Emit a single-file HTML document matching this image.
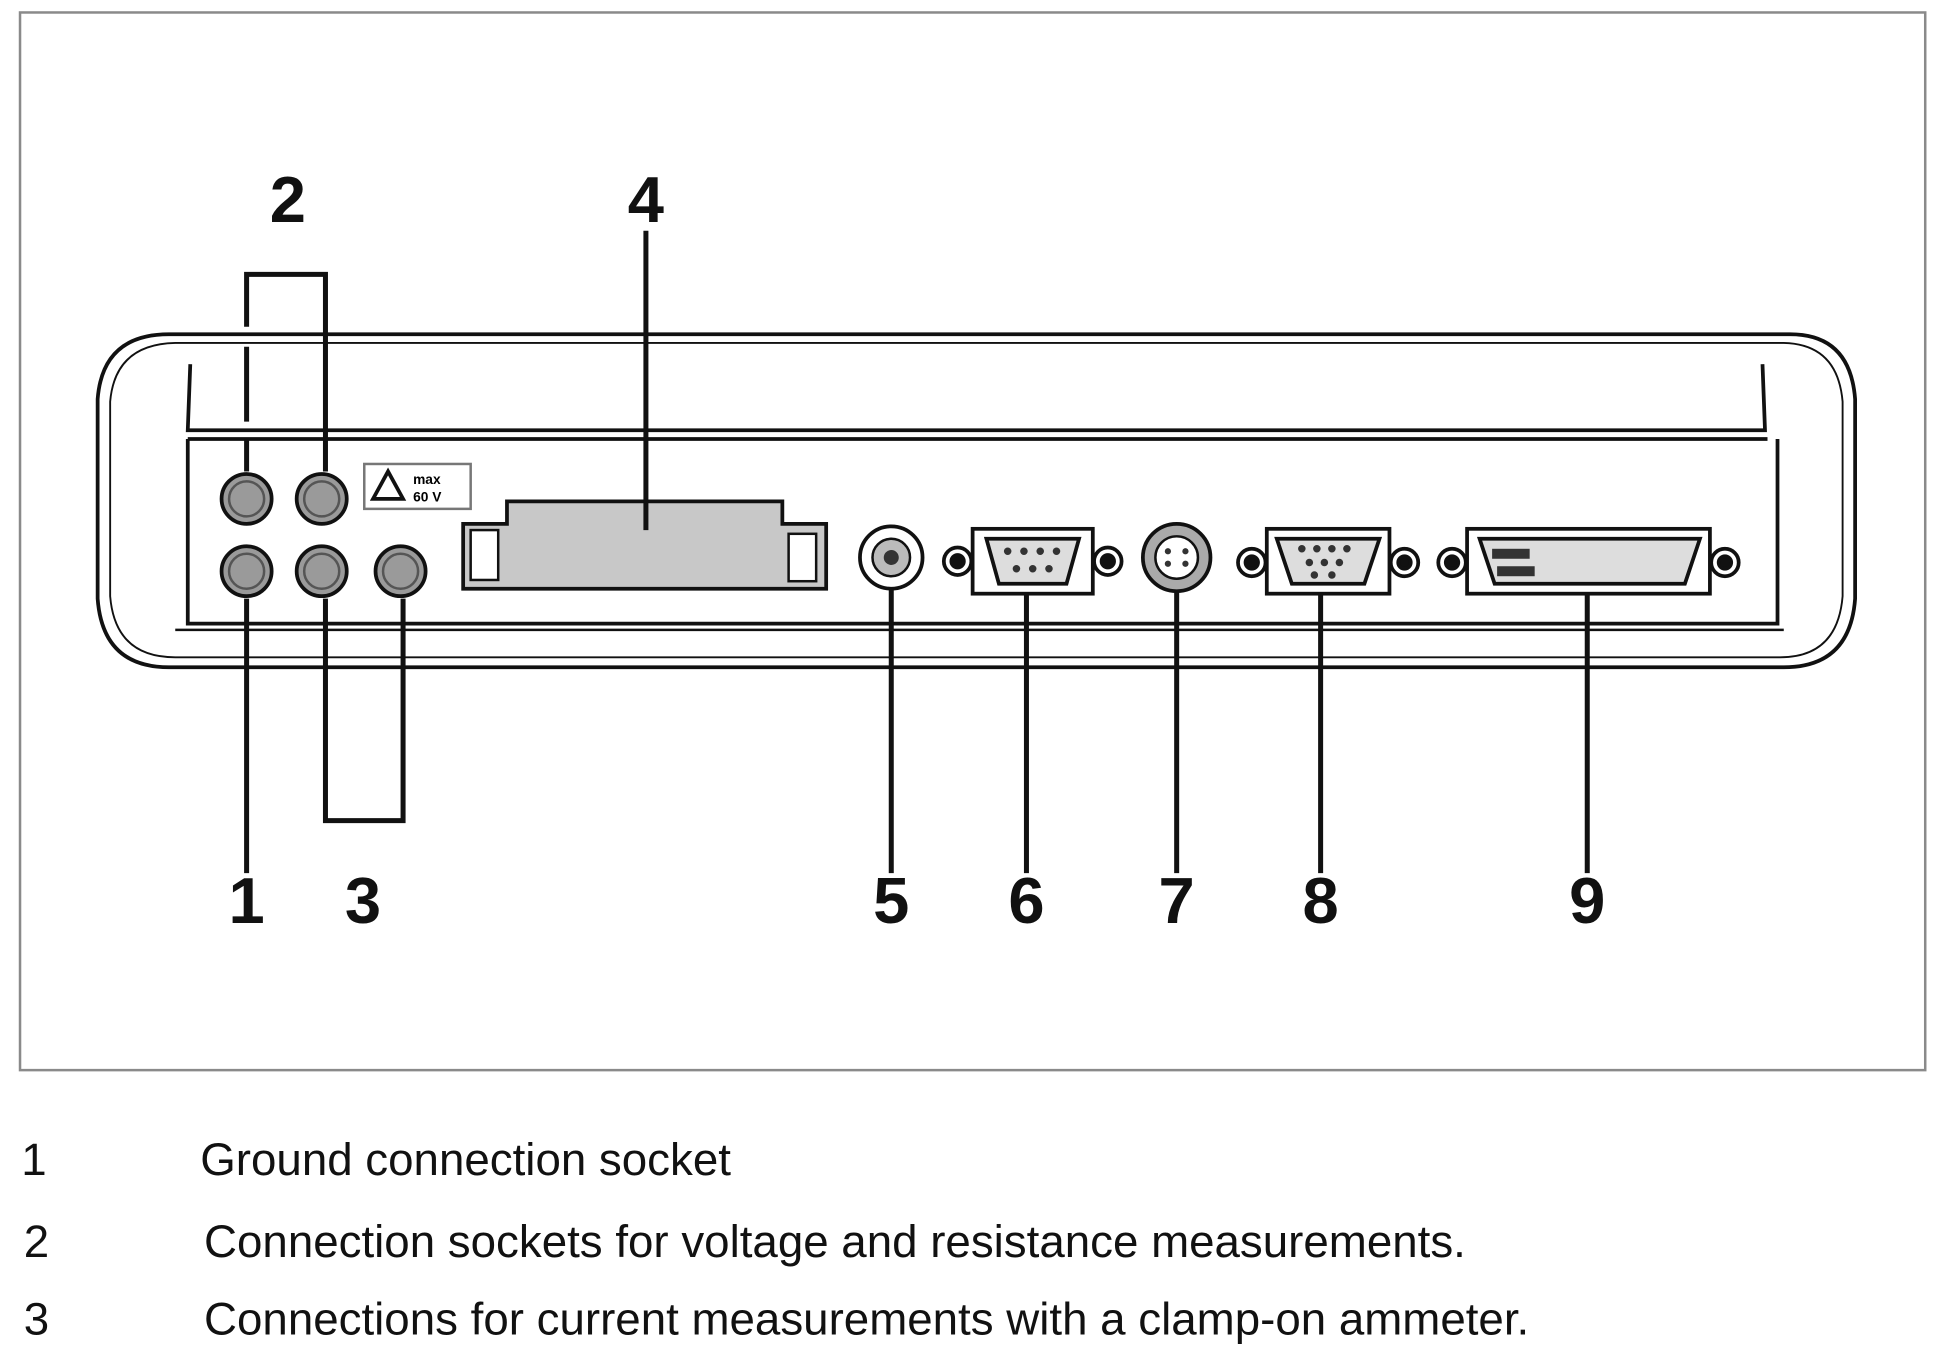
<!DOCTYPE html>
<html><head><meta charset="utf-8"><style>
html,body{margin:0;padding:0;background:#fff;}
svg{display:block;}
text{font-family:"Liberation Sans",Arial,sans-serif;}
</style></head><body>
<svg width="1944" height="1352" viewBox="0 0 1553 1084" preserveAspectRatio="none" xmlns="http://www.w3.org/2000/svg">
<rect x="16" y="10" width="1522" height="848" fill="#fff" stroke="#8a8a8a" stroke-width="2"/>
<g fill="none" stroke="#111" stroke-width="3">
<path d="M135,268 H1430 Q1478,268 1482,320 V480 Q1478,535 1425,535 H135 Q82,535 78,480 V320 Q82,268 135,268 Z"/>
<path d="M140,275 H1425 Q1468,276 1472,322 V478 Q1468,527 1422,527 H140 Q92,527 88,478 V322 Q92,276 140,275 Z" stroke-width="1.5"/>
<path d="M152,292 L150,345 H1410 L1408,292"/>
<path d="M150,352 H1412"/>
<path d="M150,352 V500 H1420 V352"/>
<path d="M140,505 H1425" stroke-width="2"/>
</g>
<g fill="#9a9a9a" stroke="#111" stroke-width="3">
<circle cx="197" cy="400" r="20"/><circle cx="257" cy="400" r="20"/>
<circle cx="197" cy="458" r="20"/><circle cx="257" cy="458" r="20"/><circle cx="320" cy="458" r="20"/>
</g>
<g fill="none" stroke="#555" stroke-width="2">
<circle cx="197" cy="400" r="14"/><circle cx="257" cy="400" r="14"/>
<circle cx="197" cy="458" r="14"/><circle cx="257" cy="458" r="14"/><circle cx="320" cy="458" r="14"/>
</g>
<rect x="291" y="372" width="85" height="36" fill="#fff" stroke="#777" stroke-width="2"/>
<path d="M310,378 L298,400 H322 Z" fill="none" stroke="#111" stroke-width="3"/>
<text x="330" y="388" font-size="11" font-weight="bold">max</text>
<text x="330" y="402" font-size="11" font-weight="bold">60 V</text>
<path d="M370,420 H405 V402 H625 V420 H660 V472 H370 Z" fill="#c8c8c8" stroke="#111" stroke-width="3"/>
<rect x="376" y="425" width="22" height="40" fill="#fff" stroke="#111" stroke-width="2"/>
<rect x="630" y="428" width="22" height="38" fill="#fff" stroke="#111" stroke-width="2"/>
<circle cx="712" cy="447" r="25" fill="#fff" stroke="#111" stroke-width="3"/>
<circle cx="712" cy="447" r="15" fill="#bbb" stroke="#111" stroke-width="2"/>
<circle cx="712" cy="447" r="6" fill="#333"/>
<g stroke="#111" stroke-width="3">
<circle cx="765" cy="450" r="11" fill="#fff"/><circle cx="765" cy="450" r="5" fill="#111"/>
<circle cx="885" cy="450" r="11" fill="#fff"/><circle cx="885" cy="450" r="5" fill="#111"/>
<rect x="777" y="424" width="96" height="52" fill="#fff"/>
<path d="M788,432 H862 L852,468 H798 Z" fill="#ddd"/>
<circle cx="940" cy="447" r="27" fill="#aaa"/>
<circle cx="940" cy="447" r="17" fill="#fff" stroke-width="2"/>
<circle cx="1000" cy="451" r="11" fill="#fff"/><circle cx="1000" cy="451" r="5" fill="#111"/>
<circle cx="1122" cy="451" r="11" fill="#fff"/><circle cx="1122" cy="451" r="5" fill="#111"/>
<rect x="1012" y="424" width="98" height="52" fill="#fff"/>
<path d="M1020,432 H1102 L1090,468 H1032 Z" fill="#ddd"/>
<circle cx="1160" cy="451" r="11" fill="#fff"/><circle cx="1160" cy="451" r="5" fill="#111"/>
<circle cx="1378" cy="451" r="11" fill="#fff"/><circle cx="1378" cy="451" r="5" fill="#111"/>
<rect x="1172" y="424" width="194" height="52" fill="#fff"/>
<path d="M1182,432 H1358 L1346,468 H1194 Z" fill="#ddd"/>
</g>
<g fill="#333">
<rect x="1192" y="440" width="30" height="8"/><rect x="1196" y="454" width="30" height="8"/>
<circle cx="933" cy="442" r="2.5"/><circle cx="947" cy="442" r="2.5"/><circle cx="933" cy="452" r="2.5"/><circle cx="947" cy="452" r="2.5"/>
<circle cx="805" cy="442" r="3"/><circle cx="818" cy="442" r="3"/><circle cx="831" cy="442" r="3"/><circle cx="844" cy="442" r="3"/><circle cx="812" cy="456" r="3"/><circle cx="825" cy="456" r="3"/><circle cx="838" cy="456" r="3"/>
<circle cx="1040" cy="440" r="3"/><circle cx="1052" cy="440" r="3"/><circle cx="1064" cy="440" r="3"/><circle cx="1076" cy="440" r="3"/><circle cx="1046" cy="451" r="3"/><circle cx="1058" cy="451" r="3"/><circle cx="1070" cy="451" r="3"/><circle cx="1050" cy="461" r="3"/><circle cx="1064" cy="461" r="3"/>
</g>
<g fill="none" stroke="#111" stroke-width="4">
<path d="M197,262 V220 H260 V378"/>
<path d="M197,278 V338"/><path d="M197,352 V378"/>
<path d="M516,185 V425"/>
<path d="M197,480 V700"/>
<path d="M260,480 V658 H322 V480"/>
<path d="M712,472 V700"/>
<path d="M820,476 V700"/>
<path d="M940,474 V700"/>
<path d="M1055,476 V700"/>
<path d="M1268,476 V700"/>
</g>
<g font-size="52" font-weight="bold" text-anchor="middle" fill="#111">
<text x="230" y="178">2</text>
<text x="516" y="178">4</text>
<text x="197" y="740">1</text>
<text x="290" y="740">3</text>
<text x="712" y="740">5</text>
<text x="820" y="740">6</text>
<text x="940" y="740">7</text>
<text x="1055" y="740">8</text>
<text x="1268" y="740">9</text>
</g>
<g font-size="36.5" fill="#111">
<text x="17" y="942">1</text><text x="160" y="942">Ground connection socket</text>
<text x="19" y="1008">2</text><text x="163" y="1008">Connection sockets for voltage and resistance measurements.</text>
<text x="19" y="1070">3</text><text x="163" y="1070">Connections for current measurements with a clamp-on ammeter.</text>
</g>
</svg>
</body></html>
